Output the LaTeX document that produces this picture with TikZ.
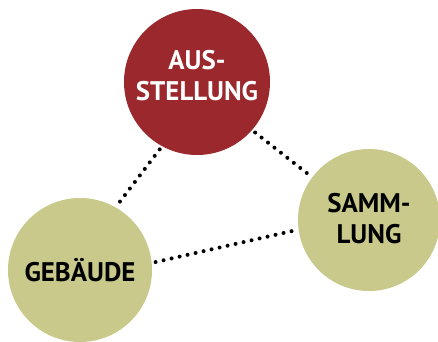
\documentclass[tikz,border=0pt]{standalone}
\usepackage{fontspec}
\setmainfont{PT Sans}
\usepackage{xcolor}
\usepackage{tikz}

\definecolor{ausred}{RGB}{154,40,44}
\definecolor{topicgreen}{RGB}{200,201,138}

\begin{document}
\begin{tikzpicture}[x=1bp,y=-1bp,
    topic/.style={circle,inner sep=0pt,outer sep=4bp,align=center,
      font=\fontsize{27}{31}\selectfont\bfseries},
    link/.style={line width=4bp,line cap=round,
      dash pattern=on 0bp off 8.2bp}]
  % ------- frame -------
  \useasboundingbox (0,0) rectangle (438,341);

  % ------- circles -------
  \node[topic,fill=ausred,text=white,minimum size=146bp,text depth=14bp]
       (aus) at (197,82) {AUS-\\STELLUNG};
  \node[topic,fill=topicgreen,minimum size=142bp,text depth=3bp]
       (samm) at (369,220) {SAMM-\\LUNG};
  \node[topic,fill=topicgreen,minimum size=144bp]
       (geb) at (80,270) {GEBÄUDE};

  % ------- dotted links -------
  \draw[link] (aus.241) -- (geb.60);
  \draw[link] (aus.319) -- (samm.143);
  \draw[link] (geb.6)   -- (samm.188);
\end{tikzpicture}
\end{document}
